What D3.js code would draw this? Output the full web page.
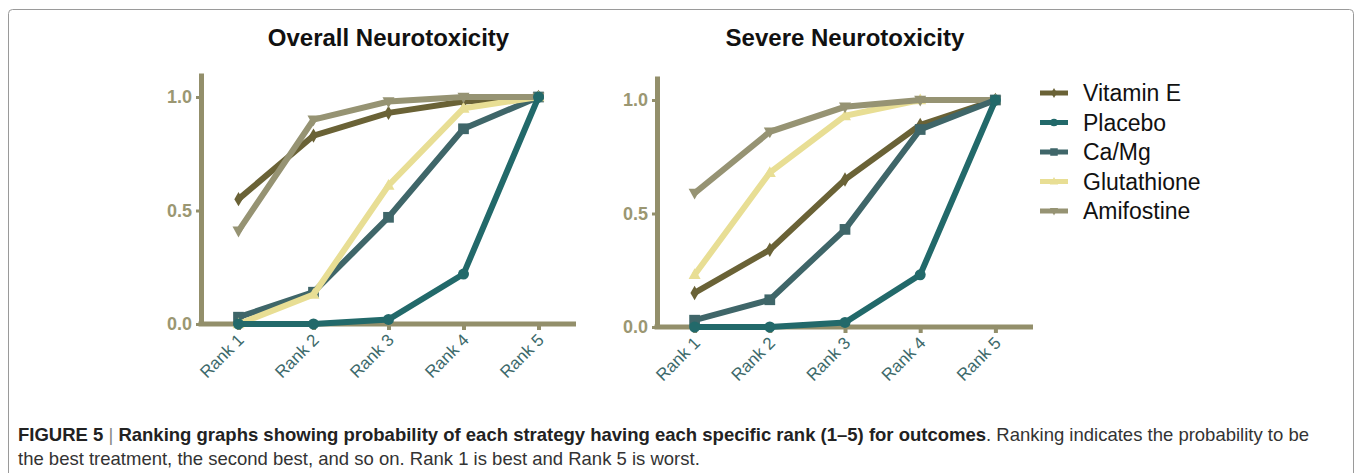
<!DOCTYPE html>
<html>
<head>
<meta charset="utf-8">
<script src="https://cdn.jsdelivr.net/npm/d3@7"></script>
<style>
  html, body { margin: 0; padding: 0; background: #fff; }
  svg { display: block; font-family: "Liberation Sans", Arial, Helvetica, sans-serif; }
</style>
</head>
<body>
<svg id="fig" width="1357" height="473"></svg>
<script>
// Rank categories on the x axis
const ranks = ["Rank 1", "Rank 2", "Rank 3", "Rank 4", "Rank 5"];
const yTicks = [0, 0.5, 1.0];

// Treatment strategies, in legend order
const strategies = ["Vitamin E", "Placebo", "Ca/Mg", "Glutathione", "Amifostine"];

// Cumulative rank probabilities - overall neurotoxicity
const overallVitaminE   = [0.55, 0.83, 0.93, 0.98, 1.00];
const overallPlacebo    = [0.00, 0.00, 0.02, 0.22, 1.00];
const overallCaMg       = [0.03, 0.14, 0.47, 0.86, 1.00];
const overallGlutathione= [0.00, 0.13, 0.61, 0.95, 1.00];
const overallAmifostine = [0.41, 0.90, 0.98, 1.00, 1.00];

// Cumulative rank probabilities - severe neurotoxicity
const severeVitaminE    = [0.15, 0.34, 0.65, 0.89, 1.00];
const severePlacebo     = [0.00, 0.00, 0.02, 0.23, 1.00];
const severeCaMg        = [0.03, 0.12, 0.43, 0.87, 1.00];
const severeGlutathione = [0.23, 0.68, 0.93, 1.00, 1.00];
const severeAmifostine  = [0.59, 0.86, 0.97, 1.00, 1.00];

const colors = {
  "Vitamin E":   "#6a6236",
  "Placebo":     "#22696a",
  "Ca/Mg":       "#3f6669",
  "Glutathione": "#e8de94",
  "Amifostine":  "#969373"
};
const symbols = {
  "Vitamin E":   { type: d3.symbolDiamond, size: 60 },
  "Placebo":     { type: d3.symbolCircle, size: 95 },
  "Ca/Mg":       { type: d3.symbolSquare, size: 115 },
  "Glutathione": { type: "up", size: 12 },
  "Amifostine":  { type: "down", size: 12 }
};
const axisColor = "#938f6b";

const panels = [
  {
    title: "Overall Neurotoxicity",
    left: 201, right: 576, zeroY: 324, oneY: 97,
    series: {
      "Vitamin E": overallVitaminE, "Placebo": overallPlacebo, "Ca/Mg": overallCaMg,
      "Glutathione": overallGlutathione, "Amifostine": overallAmifostine
    },
    order: ["Vitamin E", "Ca/Mg", "Glutathione", "Amifostine", "Placebo"]
  },
  {
    title: "Severe Neurotoxicity",
    left: 657, right: 1033, zeroY: 327, oneY: 100,
    series: {
      "Vitamin E": severeVitaminE, "Placebo": severePlacebo, "Ca/Mg": severeCaMg,
      "Glutathione": severeGlutathione, "Amifostine": severeAmifostine
    },
    order: ["Vitamin E", "Glutathione", "Amifostine", "Ca/Mg", "Placebo"]
  }
];

const svg = d3.select("#fig");

// figure frame
svg.append("rect")
  .attr("x", 8.5).attr("y", 9.5)
  .attr("width", 1345).attr("height", 500)
  .attr("rx", 4)
  .attr("fill", "none").attr("stroke", "#9a9a9a").attr("stroke-width", 1);

function triangle(g, dir, s) {
  const h = s * 0.9;
  const pts = dir === "up"
    ? [[0, -h * 0.6], [s / 2, h * 0.4], [-s / 2, h * 0.4]]
    : [[0, h * 0.6], [s / 2, -h * 0.4], [-s / 2, -h * 0.4]];
  return g.append("path").attr("d", "M" + pts.map(p => p.join(",")).join("L") + "Z");
}

function marker(g, name, x, y, scale) {
  const sym = symbols[name];
  let m;
  if (sym.type === "up" || sym.type === "down") {
    m = triangle(g, sym.type, sym.size * scale);
  } else {
    m = g.append("path").attr("d", d3.symbol().type(sym.type).size(sym.size * scale * scale)());
  }
  m.attr("transform", `translate(${x},${y})`).attr("fill", colors[name]);
}

panels.forEach(p => {
  const g = svg.append("g");
  const x = d3.scalePoint().domain(ranks).range([p.left, p.right]).padding(0.5);
  const y = d3.scaleLinear().domain([0, 1]).range([p.zeroY, p.oneY]);
  const yTop = y.invert(p.oneY - 24);

  // title
  g.append("text")
    .attr("x", (p.left + p.right) / 2).attr("y", 46)
    .attr("text-anchor", "middle")
    .attr("font-size", 24).attr("font-weight", "bold").attr("fill", "#111")
    .text(p.title);

  // y axis
  const yAxis = g.append("g")
    .attr("transform", `translate(${p.left},0)`)
    .call(d3.axisLeft(y.copy().domain([0, yTop]).range([p.zeroY, p.oneY - 24]))
      .tickValues(yTicks).tickFormat(d3.format(".1f")).tickSize(5).tickSizeOuter(0).tickPadding(4));
  yAxis.select(".domain").attr("stroke", axisColor).attr("stroke-width", 5);
  yAxis.selectAll(".tick line").attr("stroke", axisColor).attr("stroke-width", 3);
  yAxis.selectAll(".tick text")
    .attr("fill", "#9b9772").attr("font-size", 18).attr("font-weight", "bold")
    .attr("font-family", "'Liberation Sans', Arial, sans-serif");

  // x axis
  const xAxis = g.append("g")
    .attr("transform", `translate(0,${p.zeroY})`)
    .call(d3.axisBottom(x).tickSize(6).tickSizeOuter(0));
  xAxis.select(".domain").attr("stroke", axisColor).attr("stroke-width", 5)
    .attr("d", `M${p.left - 2.5},0H${p.right}`);
  xAxis.selectAll(".tick line").attr("stroke", axisColor).attr("stroke-width", 4);
  xAxis.selectAll(".tick text")
    .attr("fill", "#3d6a6b").attr("font-size", 17)
    .attr("font-family", "'Liberation Sans', Arial, sans-serif")
    .attr("text-anchor", "end")
    .attr("dy", null).attr("y", null)
    .attr("transform", "translate(6,17) rotate(-45)");

  // series lines and markers
  const line = d3.line().x((d, i) => x(ranks[i])).y(d => y(d));
  p.order.forEach(name => {
    const vals = p.series[name];
    const sg = g.append("g");
    sg.append("path").datum(vals)
      .attr("d", line)
      .attr("fill", "none").attr("stroke", colors[name])
      .attr("stroke-width", 6).attr("stroke-linejoin", "miter");
    vals.forEach((v, i) => marker(sg, name, x(ranks[i]), y(v), 1));
  });
});

// legend
const legend = svg.append("g").attr("transform", "translate(1040,93)");
strategies.forEach((name, i) => {
  const row = legend.append("g").attr("transform", `translate(0,${i * 29.5})`);
  row.append("line").attr("x1", 0).attr("x2", 28).attr("y1", 0).attr("y2", 0)
    .attr("stroke", colors[name]).attr("stroke-width", 5);
  marker(row, name, 14, 0, 0.7);
  row.append("text").attr("x", 43).attr("y", 8)
    .attr("font-size", 23).attr("fill", "#111").text(name);
});

// caption
const cap = svg.append("text").attr("x", 18).attr("y", 441)
  .attr("font-size", 18.5).attr("fill", "#333");
cap.append("tspan").attr("font-weight", "bold").attr("fill", "#222").text("FIGURE 5");
cap.append("tspan").attr("fill", "#888").attr("font-weight", "normal").text(" | ");
cap.append("tspan").attr("font-weight", "bold").attr("fill", "#222")
  .text("Ranking graphs showing probability of each strategy having each specific rank (1–5) for outcomes");
cap.append("tspan").text(". Ranking indicates the probability to be");
svg.append("text").attr("x", 18).attr("y", 465)
  .attr("font-size", 18.5).attr("fill", "#333")
  .text("the best treatment, the second best, and so on. Rank 1 is best and Rank 5 is worst.");
</script>
</body>
</html>
